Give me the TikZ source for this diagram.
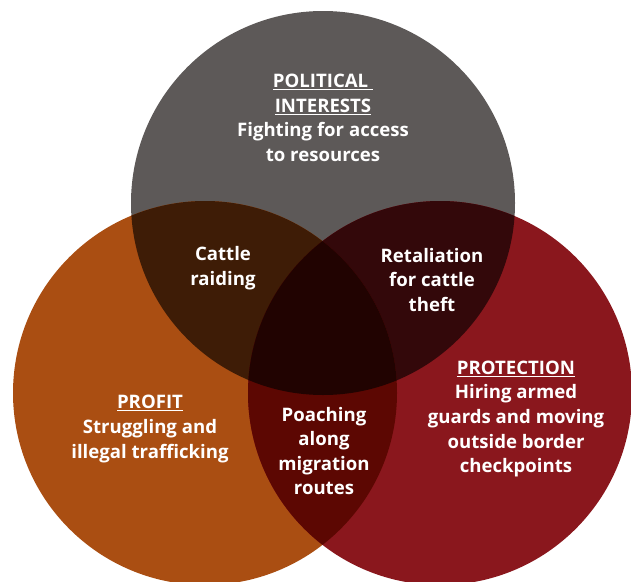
\documentclass[tikz,border=0pt]{standalone}
\usepackage{fontspec}
\setmainfont{Open Sans}
\definecolor{cgray}{HTML}{5D5958}
\definecolor{corange}{HTML}{AA4E12}
\definecolor{cred}{HTML}{8A171D}
\definecolor{cTL}{HTML}{3E1C06}
\definecolor{cTR}{HTML}{33080A}
\definecolor{cLR}{HTML}{5C0702}
\definecolor{cTLR}{HTML}{210301}
\begin{document}
\begin{tikzpicture}[x=1pt,y=-1pt,
  lab/.style={text=white,align=center,inner sep=0pt,
    font=\fontsize{18.6}{24.6}\selectfont\bfseries}]
\useasboundingbox (0,0) rectangle (631,581);
\coordinate (T) at (323,203);
\coordinate (L) at (205,393);
\coordinate (R) at (440,393);
\fill[cgray] (T) circle (192);
\fill[corange] (L) circle (192);
\fill[cred] (R) circle (192);
\begin{scope}
  \clip (T) circle (192);
  \fill[cTL] (L) circle (192);
\end{scope}
\begin{scope}
  \clip (T) circle (192);
  \fill[cTR] (R) circle (192);
\end{scope}
\begin{scope}
  \clip (L) circle (192);
  \fill[cLR] (R) circle (192);
\end{scope}
\begin{scope}
  \clip (T) circle (192);
  \clip (L) circle (192);
  \fill[cTLR] (R) circle (192);
\end{scope}
\node[lab] (pol) at (323,118) {\underline{POLITICAL\ }\\\underline{INTERESTS}\\Fighting for access\\to resources};
\node[lab] (cat) at (223,268) {Cattle\\raiding};
\node[lab] (ret) at (432,280) {Retaliation\\for cattle\\theft};
\node[lab] (pro) at (516,419) {\underline{PROTECTION}\\Hiring armed\\guards and moving\\outside border\\checkpoints};
\node[lab] (prf) at (150,429) {\underline{PROFIT}\\Struggling and\\illegal trafficking};
\node[lab] (poa) at (324,451) {Poaching\\along\\migration\\routes};
\end{tikzpicture}
\end{document}
